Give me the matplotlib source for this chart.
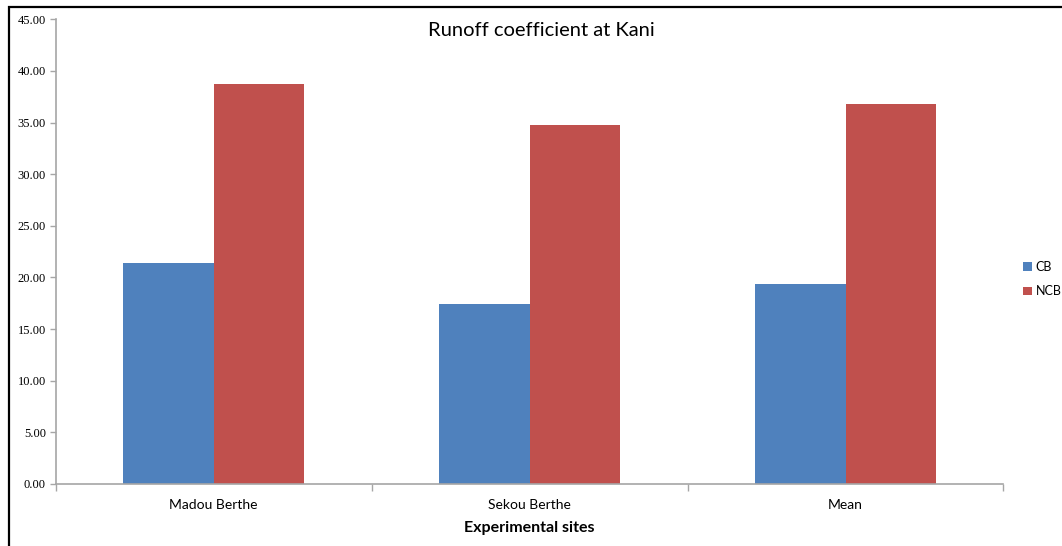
import numpy as np
import matplotlib
matplotlib.use("Agg")
import matplotlib.pyplot as plt
from matplotlib.patches import Rectangle

sites = ["Madou Berthe", "Sekou Berthe", "Mean"]
series = ["CB", "NCB"]
cb = [21.4, 17.4, 19.4]
ncb = [38.7, 34.8, 36.75]
colors = ["#4F81BD", "#C0504D"]
yticks = np.arange(0, 45.01, 5)

W, H = 1062, 546
fig = plt.figure(figsize=(W / 100, H / 100), dpi=100)
ax = fig.add_axes([55.7 / W, 1 - 484 / H, (1003.5 - 55.7) / W, (484 - 19.3) / H])

x = np.arange(len(sites))
width = 1 / 3.5
ax.bar(x - width / 2, cb, width, color=colors[0], label=series[0])
ax.bar(x + width / 2, ncb, width, color=colors[1], label=series[1])

ax.set_xlim(-0.5, len(sites) - 0.5)
ax.set_ylim(0, 45)

axis_grey = "#a6a6a6"
for side in ("top", "right"):
    ax.spines[side].set_visible(False)
for side in ("left", "bottom"):
    ax.spines[side].set_color(axis_grey)
    ax.spines[side].set_linewidth(1.2)

ax.set_yticks(yticks)
ax.set_yticklabels([f"{v:.2f}" for v in yticks], fontfamily="Liberation Serif", fontsize=9)
ax.tick_params(axis="y", length=4, width=1.0, color=axis_grey, pad=3)

# category labels centred, tick marks on the category boundaries
ax.set_xticks(x)
ax.set_xticklabels(sites, fontfamily="Lato", fontsize=10)
ax.tick_params(axis="x", which="major", length=0, pad=11)
ax.set_xticks(np.arange(-0.5, len(sites)), minor=True)
ax.tick_params(axis="x", which="minor", length=5, width=1.0, color=axis_grey)

fig.text(529.6 / W, 1 - 528 / H, "Experimental sites", ha="center", va="center",
         fontfamily="Lato", fontweight="bold", fontsize=11.5)
fig.text(541 / W, 1 - 31 / H, "Runoff coefficient at Kani", ha="center", va="center",
         fontfamily="Lato", fontsize=14.5)

leg = fig.legend(loc="center left", bbox_to_anchor=(1023 / W, 1 - 279 / H),
                 frameon=False, prop={"family": "Lato", "size": 9},
                 borderaxespad=0, borderpad=0,
                 handlelength=0.7, handleheight=0.7, handletextpad=0.3, labelspacing=1.0)

# chart frame
fig.patches.append(Rectangle((8.5 / W, -0.1), 1.2, 1 - 6.5 / H + 0.1, transform=fig.transFigure,
                             fill=False, edgecolor="black", linewidth=1.6))

fig.savefig("out.png", dpi=100)
